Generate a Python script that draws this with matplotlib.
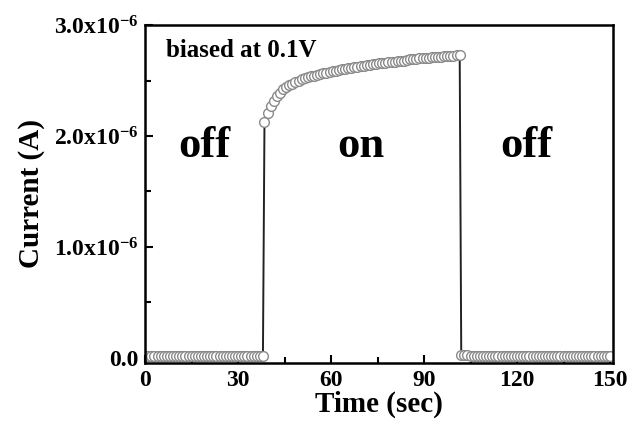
import matplotlib
matplotlib.use("Agg")
import matplotlib.pyplot as plt
from matplotlib.ticker import FixedLocator

plt.rcParams['font.family'] = ['Liberation Serif', 'DejaVu Serif']
plt.rcParams['font.weight'] = 'bold'
plt.rcParams['mathtext.fontset'] = 'custom'
plt.rcParams['mathtext.rm'] = 'Liberation Serif:bold'
plt.rcParams['mathtext.it'] = 'Liberation Serif:bold'
plt.rcParams['mathtext.bf'] = 'Liberation Serif:bold'

# light off (first period), current in uA
t_off1 = [0, 1, 2, 3, 4, 5, 6, 7, 8, 9, 10, 11, 12, 13, 14, 15, 16, 17, 18, 19,
          20, 21, 22, 23, 24, 25, 26, 27, 28, 29, 30, 31, 32, 33, 34, 35, 36, 37, 38]
i_off1 = [0.02, 0.02, 0.02, 0.021, 0.02, 0.02, 0.019, 0.02, 0.02, 0.021, 0.02, 0.02,
          0.02, 0.02, 0.021, 0.02, 0.02, 0.02, 0.021, 0.02, 0.02, 0.02, 0.019, 0.02,
          0.02, 0.02, 0.021, 0.02, 0.02, 0.02, 0.02, 0.02, 0.021, 0.02, 0.02, 0.02,
          0.02, 0.021, 0.02]

# light on
t_on = [38.5, 39.5, 40.5, 41.5, 42.5, 43.5, 44.5, 45.5, 46.5, 47.5, 48.5, 49.5,
        50.5, 51.5, 52.5, 53.5, 54.5, 55.5, 56.5, 57.5, 58.5, 59.5, 60.5, 61.5,
        62.5, 63.5, 64.5, 65.5, 66.5, 67.5, 68.5, 69.5, 70.5, 71.5, 72.5, 73.5,
        74.5, 75.5, 76.5, 77.5, 78.5, 79.5, 80.5, 81.5, 82.5, 83.5, 84.5, 85.5,
        86.5, 87.5, 88.5, 89.5, 90.5, 91.5, 92.5, 93.5, 94.5, 95.5, 96.5, 97.5,
        98.5, 99.5, 100.5, 101.5]
i_on = [2.13, 2.21, 2.27, 2.32, 2.36, 2.39, 2.42, 2.44, 2.46, 2.47, 2.49, 2.50,
        2.51, 2.52, 2.53, 2.54, 2.545, 2.55, 2.56, 2.565, 2.57, 2.58, 2.585, 2.59,
        2.595, 2.60, 2.605, 2.61, 2.615, 2.62, 2.625, 2.63, 2.635, 2.64, 2.64, 2.645,
        2.65, 2.655, 2.66, 2.66, 2.665, 2.67, 2.67, 2.675, 2.68, 2.68, 2.685, 2.69,
        2.69, 2.695, 2.70, 2.70, 2.70, 2.705, 2.71, 2.71, 2.71, 2.715, 2.72, 2.72,
        2.72, 2.725, 2.73, 2.73]

# light off (second period)
t_off2 = [102, 103, 104, 105, 106, 107, 108, 109, 110, 111, 112, 113, 114, 115, 116,
          117, 118, 119, 120, 121, 122, 123, 124, 125, 126, 127, 128, 129, 130, 131,
          132, 133, 134, 135, 136, 137, 138, 139, 140, 141, 142, 143, 144, 145, 146,
          147, 148, 149, 150]
i_off2 = [0.025, 0.023, 0.022, 0.021, 0.021, 0.02, 0.02, 0.02, 0.02, 0.02, 0.02, 0.019,
          0.02, 0.02, 0.02, 0.02, 0.02, 0.02, 0.021, 0.02, 0.02, 0.02, 0.02, 0.019,
          0.02, 0.02, 0.02, 0.02, 0.02, 0.02, 0.02, 0.021, 0.02, 0.02, 0.02, 0.02,
          0.02, 0.019, 0.02, 0.02, 0.02, 0.02, 0.02, 0.02, 0.021, 0.02, 0.02, 0.02, 0.02]

t_all = t_off1 + t_on + t_off2
i_all = [v * 1e-6 for v in i_off1 + i_on + i_off2]

y_ticks = [0.0, 1.0e-6, 2.0e-6, 3.0e-6]
y_labels = ['0.0', r'1.0x10$^{-6}$', r'2.0x10$^{-6}$', r'3.0x10$^{-6}$']
x_ticks = [0, 30, 60, 90, 120, 150]

fig = plt.figure(figsize=(6.34, 4.33), dpi=100)
ax = fig.add_axes([0.229, 0.162, 0.738, 0.780])

ax.plot(t_all, i_all, color='#222222', lw=1.4, marker='o', ms=7,
        markerfacecolor='white', markeredgecolor='#8a8a8a', markeredgewidth=1.0)

ax.set_xlim(0, 151)
ax.set_ylim(-0.045e-6, 3.0e-6)
ax.set_xticks(x_ticks)
ax.set_yticks(y_ticks)
ax.set_yticklabels(y_labels)
ax.xaxis.set_minor_locator(FixedLocator([15, 45, 75, 105, 135]))
ax.yaxis.set_minor_locator(FixedLocator([0.5e-6, 1.5e-6, 2.5e-6]))
ax.tick_params(which='both', direction='in', top=False, right=False, width=1.5)
ax.tick_params(which='major', length=6)
ax.tick_params(which='minor', length=4)
ax.tick_params(axis='x', labelsize=17, pad=5)
ax.tick_params(axis='y', labelsize=17, pad=5)
for s in ax.spines.values():
    s.set_linewidth(1.8)

ax.set_xlabel('Time (sec)', fontsize=21, fontweight='bold', labelpad=0)
ax.set_ylabel('Current (A)', fontsize=21, fontweight='bold', labelpad=6)

ax.text(0.045, 0.96, 'biased at 0.1V', transform=ax.transAxes, fontsize=18,
        fontweight='bold', va='top', ha='left')
ax.text(19, 1.81e-6, 'off', fontsize=32, fontweight='bold', ha='center', va='baseline')
ax.text(69.5, 1.81e-6, 'on', fontsize=32, fontweight='bold', ha='center', va='baseline')
ax.text(123, 1.81e-6, 'off', fontsize=32, fontweight='bold', ha='center', va='baseline')

fig.savefig('out.png', dpi=100)
